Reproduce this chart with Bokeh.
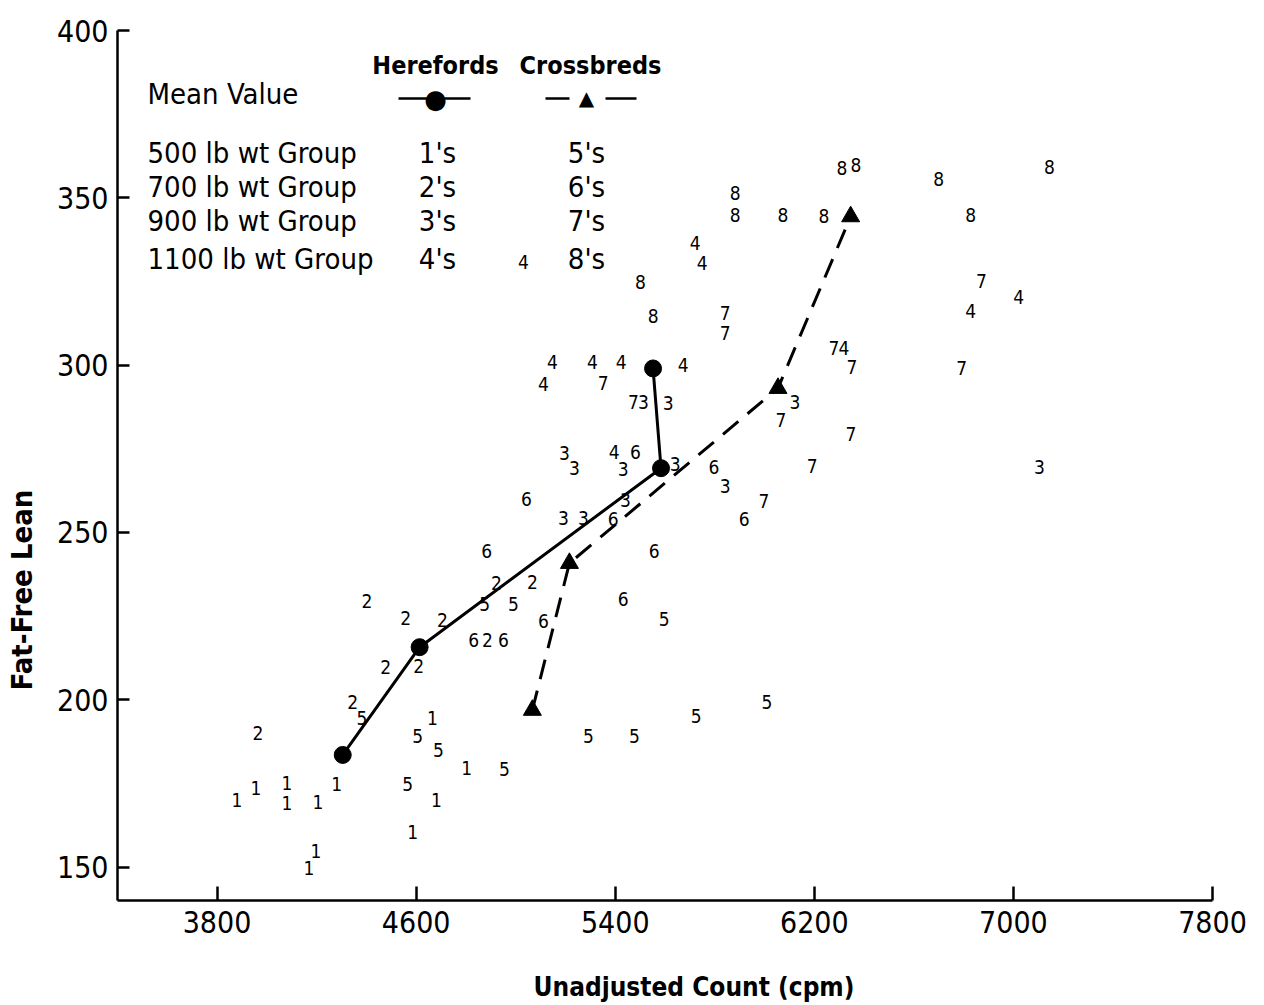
from bokeh.plotting import figure
from bokeh.models import Label, Arrow, Range1d, FixedTicker, Title
from bokeh.core.properties import value
from bokeh.embed import file_html
from bokeh.resources import INLINE

FONT = "DejaVu Sans Condensed, DejaVu Sans, sans-serif"

# ---- individual animals (x = unadjusted count cpm, y = fat-free lean) ----
# Herefords
G1_X = [3880, 3956, 4081, 4081, 4205, 4281, 4586, 4682, 4803, 4666, 4169, 4197]
G1_Y = [170.0, 173.6, 175.1, 169.1, 169.4, 174.8, 160.5, 170.0, 179.6, 194.5, 149.7, 154.8]
G2_X = [3964, 4402, 4558, 4706, 4478, 4610, 4345, 4923, 5067, 4887]
G2_Y = [190.0, 229.4, 224.4, 223.8, 209.7, 210.0, 199.3, 234.8, 235.1, 217.8]
G3_X = [5196, 5236, 5192, 5272, 5432, 5441, 5513, 5613, 5641, 5842, 6122, 7105]
G3_Y = [273.7, 269.2, 254.2, 254.2, 268.9, 259.6, 288.9, 288.6, 270.4, 263.8, 288.9, 269.5]
G4_X = [5031, 5721, 5749, 5148, 5112, 5308, 5424, 5673, 5396, 6319, 6828, 7021]
G4_Y = [330.7, 336.4, 330.4, 300.8, 294.3, 300.8, 300.8, 299.9, 274.0, 305.0, 316.1, 320.5]
# Crossbreds
G5_X = [4382, 4606, 4690, 4566, 4955, 4875, 4991, 5597, 5292, 5477, 5725, 6010]
G5_Y = [194.5, 189.1, 184.9, 174.8, 179.3, 228.6, 228.6, 224.1, 189.1, 189.1, 195.1, 199.3]
G6_X = [5043, 4883, 4831, 4951, 5112, 5481, 5392, 5557, 5432, 5797, 5918]
G6_Y = [259.9, 244.4, 217.8, 217.8, 223.5, 274.0, 253.9, 244.4, 230.0, 269.5, 253.9]
G7_X = [5352, 5473, 5842, 5842, 6066, 6279, 6351, 6347, 6191, 5998, 6792, 6872]
G7_Y = [294.6, 288.9, 315.5, 309.5, 283.5, 305.0, 299.3, 279.3, 269.8, 259.3, 299.0, 325.0]
G8_X = [6311, 6367, 5882, 5882, 6074, 6239, 5501, 5553, 6700, 6828, 7145]
G8_Y = [358.8, 359.7, 351.3, 345.0, 345.0, 344.7, 324.7, 314.6, 355.5, 345.0, 359.1]

GROUP_CODES = ["1", "2", "3", "4", "5", "6", "7", "8"]

# ---- group means ----
HEREFORD_MEAN_X = [4305, 4614, 5584, 5552]
HEREFORD_MEAN_Y = [183.5, 215.7, 269.2, 299.0]
CROSSBRED_MEAN_X = [5067, 5216, 6054, 6346]
CROSSBRED_MEAN_Y = [196.9, 240.8, 293.1, 344.4]

X_TICKS = [3800, 4600, 5400, 6200, 7000, 7800]
Y_TICKS = [150, 200, 250, 300, 350, 400]

GROUP_NAMES = ["500 lb wt Group", "700 lb wt Group", "900 lb wt Group", "1100 lb wt Group"]
HEREFORD_SYMBOLS = ["1's", "2's", "3's", "4's"]
CROSSBRED_SYMBOLS = ["5's", "6's", "7's", "8's"]

p = figure(width=1264, height=1005,
           x_range=Range1d(3400, 7800), y_range=Range1d(140, 400),
           output_backend="svg", toolbar_location=None,
           min_border_left=117, min_border_right=52,
           min_border_top=30, min_border_bottom=105)

p.grid.grid_line_color = None
p.outline_line_color = None
p.background_fill_color = "white"
p.border_fill_color = "white"

for ax in (p.xaxis[0], p.yaxis[0]):
    ax.axis_line_color = "black"
    ax.axis_line_width = 2.5
    ax.major_tick_line_color = "black"
    ax.major_tick_line_width = 2.5
    ax.major_tick_out = 0
    ax.minor_tick_line_color = None
    ax.major_label_text_font = FONT
    ax.major_label_text_font_size = "30px"
    ax.major_label_text_color = "black"
    # blank spacer label, only used to push the axis titles outwards
    ax.axis_label = " "
    ax.axis_label_text_font_size = "2px"

p.xaxis.ticker = FixedTicker(ticks=X_TICKS)
p.yaxis.ticker = FixedTicker(ticks=Y_TICKS)
p.xaxis.major_tick_in = 14
p.yaxis.major_tick_in = 12
p.xaxis.major_label_standoff = 10
p.yaxis.major_label_standoff = 9
p.xaxis.axis_label_standoff = 27
p.yaxis.axis_label_standoff = 8

# ---- individual points drawn as group digits ----
groups = [(G1_X, G1_Y), (G2_X, G2_Y), (G3_X, G3_Y), (G4_X, G4_Y),
          (G5_X, G5_Y), (G6_X, G6_Y), (G7_X, G7_Y), (G8_X, G8_Y)]
for code, (gx, gy) in zip(GROUP_CODES, groups):
    p.text(x=gx, y=gy, text=[code] * len(gx), text_align="center",
           text_baseline="middle", text_font=value(FONT),
           text_font_size="19px", text_color="black")

# ---- mean lines ----
p.line(HEREFORD_MEAN_X, HEREFORD_MEAN_Y, line_color="black", line_width=3)
p.scatter(HEREFORD_MEAN_X, HEREFORD_MEAN_Y, marker="circle", size=17,
          fill_color="black", line_color="black")
p.line(CROSSBRED_MEAN_X, CROSSBRED_MEAN_Y, line_color="black", line_width=3,
       line_dash="20 12")
p.scatter(CROSSBRED_MEAN_X, CROSSBRED_MEAN_Y, marker="triangle", size=18,
          fill_color="black", line_color="black")


def lab(x, y, text, size="29px", align="left", style="normal", font=FONT):
    p.add_layout(Label(x=x, y=y, x_units="screen", y_units="screen", text=text,
                       text_font=font, text_font_size=size, text_align=align,
                       text_baseline="middle", text_font_style=style,
                       text_color="black"))


# ---- legend block (screen units relative to plot frame) ----
lab(30, 807, "Mean Value")
lab(318, 835, "Herefords", size="25px", align="center", style="bold")
lab(473, 835, "Crossbreds", size="25px", align="center", style="bold")
p.add_layout(Arrow(end=None, x_start=281, y_start=802, x_end=353, y_end=802,
                   start_units="screen", end_units="screen",
                   line_color="black", line_width=2.5))
lab(318, 802, "\u25CF", size="26px", align="center", font="DejaVu Sans")
p.add_layout(Arrow(end=None, x_start=428, y_start=802, x_end=452, y_end=802,
                   start_units="screen", end_units="screen",
                   line_color="black", line_width=2.5))
p.add_layout(Arrow(end=None, x_start=488, y_start=802, x_end=519, y_end=802,
                   start_units="screen", end_units="screen",
                   line_color="black", line_width=2.5))
lab(469, 803, "\u25B2", size="20px", align="center", font="DejaVu Sans")

row_y = [748, 714, 680, 642]
for ry, name, hs, cs in zip(row_y, GROUP_NAMES, HEREFORD_SYMBOLS, CROSSBRED_SYMBOLS):
    lab(30, ry, name)
    lab(320, ry, hs, align="center")
    lab(469, ry, cs, align="center")

# ---- axis titles ----
p.add_layout(Title(text="Unadjusted Count (cpm)", align="left", offset=416,
                   standoff=4,
                   text_font=FONT, text_font_size="26px", text_font_style="bold",
                   text_color="black"), "below")
p.add_layout(Title(text="Fat-Free Lean", align="left", offset=210,
                   standoff=4,
                   text_font=FONT, text_font_size="29px", text_font_style="bold",
                   text_color="black"), "left")

open("out.html", "w").write(file_html(p, INLINE))
